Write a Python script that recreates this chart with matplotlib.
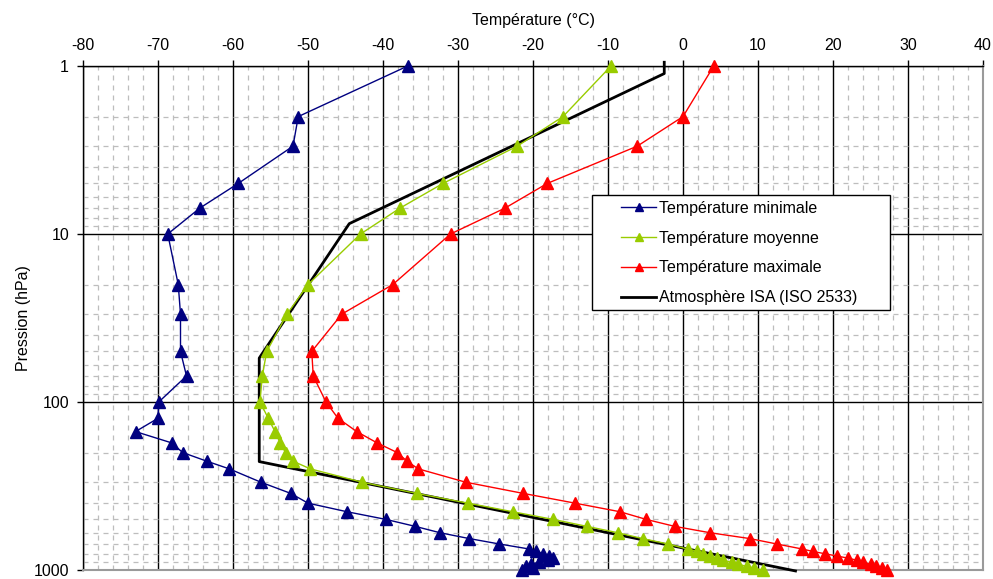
import matplotlib
matplotlib.use("Agg")
import matplotlib.pyplot as plt
from matplotlib.ticker import FixedLocator, NullFormatter, MultipleLocator
from matplotlib.patches import Rectangle

plt.rcParams['font.family'] = ['Liberation Sans', 'DejaVu Sans']
plt.rcParams['axes.unicode_minus'] = False

pressure = [1, 2, 3, 5, 7, 10, 20, 30, 50, 70, 100, 125, 150, 175, 200, 225, 250,
            300, 350, 400, 450, 500, 550, 600, 650, 700, 750, 775, 800, 825, 850,
            875, 900, 925, 950, 975, 1000]

t_min = [-36.7, -51.3, -52.0, -59.3, -64.4, -68.7, -67.3, -67.0, -67.0, -66.2, -69.9,
         -70.0, -73.0, -68.2, -66.7, -63.5, -60.5, -56.3, -52.3, -50.0, -44.8, -39.6,
         -35.7, -32.4, -28.5, -24.5, -20.5, -19.6, -18.7, -17.9, -17.3, -18.0, -19.2,
         -20.3, -21.0, -20.0, -21.5]

t_moy = [-9.6, -16.0, -22.1, -32.0, -37.7, -43.0, -50.0, -52.8, -55.5, -56.1, -56.4,
         -55.3, -54.4, -53.7, -53.0, -52.0, -49.7, -42.8, -35.5, -28.7, -22.7, -17.3,
         -12.8, -8.7, -5.4, -2.0, 0.6, 1.9, 2.7, 3.6, 4.5, 5.3, 6.5, 7.3, 8.5, 9.5, 10.6]

t_max = [4.1, 0.0, -6.1, -18.1, -23.7, -31.0, -38.7, -45.5, -49.5, -49.3, -47.6,
         -46.0, -43.5, -40.8, -38.1, -36.8, -35.3, -29.0, -21.3, -14.4, -8.4, -4.9,
         -1.1, 3.6, 8.9, 12.5, 15.9, 17.3, 18.9, 20.5, 22.0, 23.2, 24.0, 25.0, 25.7,
         26.5, 27.2]

isa_p = [1013.25, 226.32, 54.75, 8.68, 1.109, 0.95]
isa_t = [15.0, -56.5, -56.5, -44.5, -2.5, -2.5]

labels = ["Température minimale", "Température moyenne",
          "Température maximale", "Atmosphère ISA (ISO 2533)"]

x_major = list(range(-80, 41, 10))
y_major = [1, 10, 100, 1000]
y_labels = ["1", "10", "100", "1000"]

FS = 11.5

fig = plt.figure(figsize=(9.93, 5.79), dpi=100)
ax = fig.add_axes([83/993, 1-570/579, 900/993, 504/579])

ax.set_yscale('log')
ax.set_xlim(-80, 40)
ax.set_ylim(1000, 1)

ax.xaxis.set_major_locator(FixedLocator(x_major))
ax.xaxis.set_minor_locator(MultipleLocator(2))
ax.yaxis.set_major_locator(FixedLocator(y_major))
minor_y = [m * 10**d for d in range(0, 3) for m in range(2, 10)]
ax.yaxis.set_minor_locator(FixedLocator(minor_y))
ax.yaxis.set_minor_formatter(NullFormatter())
ax.set_yticklabels(y_labels)

ax.grid(which='minor', color='#bdbdbd', linestyle=(0, (4, 4)), linewidth=0.9)
ax.grid(which='major', color='black', linestyle='-', linewidth=1.0)
ax.set_axisbelow(True)

ax.xaxis.tick_top()
ax.xaxis.set_label_position('top')
ax.tick_params(which='minor', length=0)
ax.tick_params(which='major', length=4, width=1, direction='out', labelsize=FS,
               colors='black')
ax.tick_params(axis='x', pad=5)
ax.tick_params(axis='y', pad=6)
ax.set_xlabel("Température (°C)", fontsize=FS, labelpad=10)
ax.set_ylabel("Pression (hPa)", fontsize=FS, labelpad=2)

for s in ['top', 'left']:
    ax.spines[s].set_color('black')
    ax.spines[s].set_linewidth(1.0)
for s in ['right', 'bottom']:
    ax.spines[s].set_color('#9a9a9a')
    ax.spines[s].set_linewidth(1.5)

mk = dict(marker='^', markersize=9, linewidth=1.0)
ax.plot(t_min, pressure, color='#000080', label=labels[0], zorder=4, clip_on=False, **mk)
ax.plot(t_moy, pressure, color='#99CC00', label=labels[1], zorder=4, clip_on=False, **mk)
ax.plot(t_max, pressure, color='#FF0000', label=labels[2], zorder=4, clip_on=False, **mk)
ax.plot(isa_t, isa_p, color='black', linewidth=2.0, label=labels[3], zorder=3, clip_on=False)

# legend box
box = Rectangle((0.5656, 0.516), 0.8967 - 0.5656, 0.744 - 0.516, transform=ax.transAxes,
                facecolor='white', edgecolor='black', linewidth=1.0, zorder=9)
ax.add_patch(box)
leg = ax.legend(loc='upper left', bbox_to_anchor=(0.598, 0.732), fontsize=FS,
                frameon=False, handlelength=2.2, handletextpad=0.15,
                labelspacing=0.92, borderpad=0, borderaxespad=0, markerscale=0.7)
leg.set_zorder(10)

fig.savefig("out.png", dpi=100)
